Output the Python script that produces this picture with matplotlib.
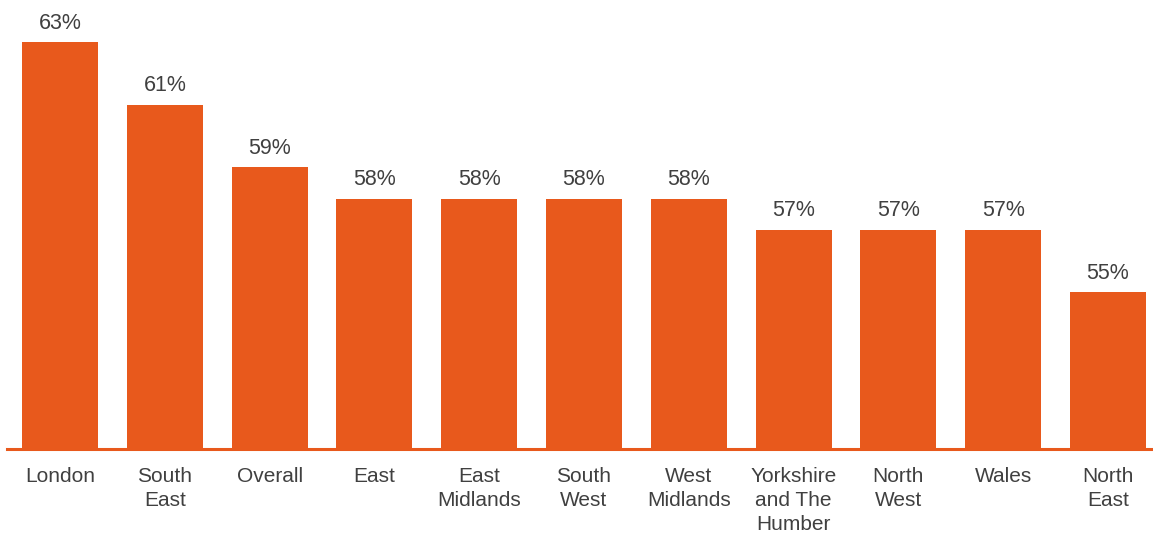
import matplotlib
matplotlib.use("Agg")
import matplotlib.pyplot as plt

regions = ["London", "South\nEast", "Overall", "East", "East\nMidlands", "South\nWest",
           "West\nMidlands", "Yorkshire\nand The\nHumber", "North\nWest", "Wales", "North\nEast"]
values = [63, 61, 59, 58, 58, 58, 58, 57, 57, 57, 55]

orange = "#E8591C"
textcol = "#404040"
plt.rcParams["font.family"] = ["Liberation Sans", "DejaVu Sans"]

fig = plt.figure(figsize=(11.53, 5.37), dpi=100)
ax = fig.add_axes([7 / 1153, 88.5 / 537, 1 - 7 / 1153, 448.5 / 537])

x = range(len(values))
bars = ax.bar(x, values, width=0.725, color=orange)
ax.bar_label(bars, labels=[f"{v}%" for v in values], padding=6, fontsize=15.5, color=textcol)

ax.set_ylim(50, 50 + 448.5 / 31.25)
ax.set_xlim(-0.506, 10.43)
ax.set_xticks(list(x))
ax.set_xticklabels(regions, fontsize=15, color=textcol, linespacing=1.36)
ax.tick_params(axis="x", length=0, pad=13)
ax.set_yticks([])
for s in ["top", "left", "right"]:
    ax.spines[s].set_visible(False)
ax.spines["bottom"].set_color(orange)
ax.spines["bottom"].set_linewidth(2.2)

fig.savefig("out.png", dpi=100)
